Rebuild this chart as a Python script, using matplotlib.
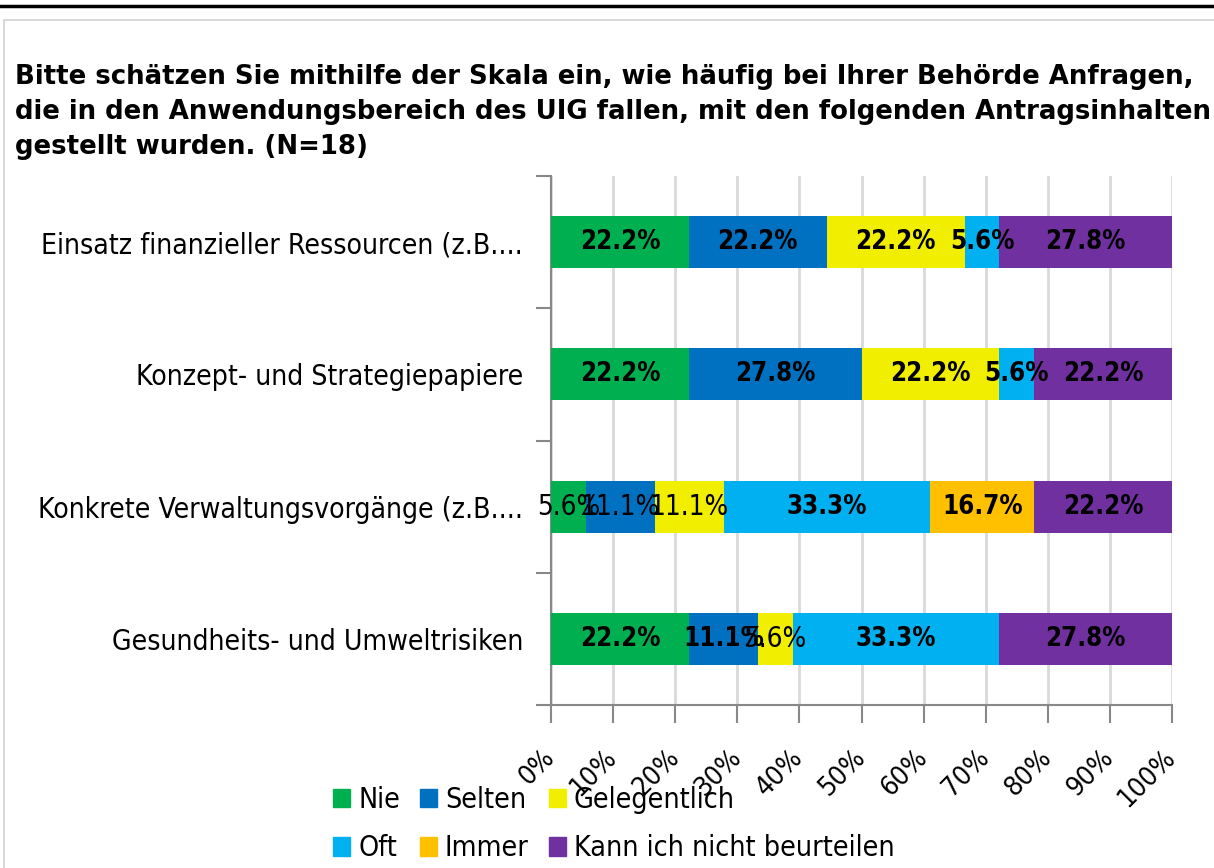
import numpy as np
import matplotlib
matplotlib.use('Agg')
import matplotlib.pyplot as plt
import matplotlib.transforms as mtrans
from matplotlib.patches import Rectangle, Patch
from matplotlib.lines import Line2D

# Daten
kategorien = ['Einsatz finanzieller Ressourcen (z.B....',
              'Konzept- und Strategiepapiere',
              'Konkrete Verwaltungsvorgänge (z.B....',
              'Gesundheits- und Umweltrisiken']
serien = ['Nie', 'Selten', 'Gelegentlich', 'Oft', 'Immer', 'Kann ich nicht beurteilen']
nie = [22.2, 22.2, 5.6, 22.2]
selten = [22.2, 27.8, 11.1, 11.1]
gelegentlich = [22.2, 22.2, 11.1, 5.6]
oft = [5.6, 5.6, 33.3, 33.3]
immer = [0.0, 0.0, 16.7, 0.0]
kann_nicht = [27.8, 22.2, 22.2, 27.8]
farben = ['#00B050', '#0070C0', '#F2EE00', '#00B0F0', '#FFC000', '#7030A0']
xticks = [0, 10, 20, 30, 40, 50, 60, 70, 80, 90, 100]
titel = ('Bitte schätzen Sie mithilfe der Skala ein, wie häufig bei Ihrer Behörde Anfragen,\n'
         'die in den Anwendungsbereich des UIG fallen, mit den folgenden Antragsinhalten\n'
         'gestellt wurden. (N=18)')
# Labels, die nicht fett gedruckt sind (Kategorie-Index, Serien-Index)
normal_labels = [(2, 0), (2, 1), (2, 2), (3, 2)]

werte = [nie, selten, gelegentlich, oft, immer, kann_nicht]

cond = dict(family='DejaVu Sans', stretch='condensed')

fig = plt.figure(figsize=(12.14, 8.68), dpi=100)
W, H = 1214, 868

# Rahmen oben
fig.add_artist(Line2D([0, 1], [1 - 6 / H, 1 - 6 / H], transform=fig.transFigure,
                      color='black', lw=2.5))
fig.add_artist(Rectangle((4 / W, -0.1), 1.2, 1 - 20 / H + 0.1, transform=fig.transFigure,
                         fill=False, edgecolor='#d9d9d9', lw=1.5))

ax = fig.add_axes([551 / W, 1 - 705 / H, (1172 - 551) / W, (705 - 176) / H])

y = np.arange(len(kategorien))
links = np.zeros(len(kategorien))
for si, (name, v, c) in enumerate(zip(serien, werte, farben)):
    v = np.array(v)
    ax.barh(y, v, left=links, height=0.394, color=c, label=name, zorder=3)
    for ki in range(len(kategorien)):
        if v[ki] > 0:
            if (ki, si) in normal_labels:
                ax.text(links[ki] + v[ki] / 2, y[ki], f'{v[ki]:.1f}%', ha='center', va='center',
                        fontsize=20, zorder=4, **cond)
            else:
                ax.text(links[ki] + v[ki] / 2, y[ki], f'{v[ki]:.1f}%', ha='center', va='center',
                        fontsize=18.5, fontweight='bold', zorder=4, **cond)
    links += v

ax.set_xlim(0, 100)
ax.set_ylim(3.5, -0.5)
ax.set_xticks(xticks)
ax.set_xticklabels([f'{t}%' for t in xticks])
verschiebung = mtrans.ScaledTranslation(7 / 100, 0, fig.dpi_scale_trans)
for lab in ax.get_xticklabels():
    lab.set_rotation(45)
    lab.set_ha('right')
    lab.set_va('center')
    lab.set_rotation_mode('anchor')
    lab.set_fontsize(19.5)
    lab.set_fontstretch('condensed')
    lab.set_transform(lab.get_transform() + verschiebung)
ax.tick_params(axis='x', direction='out', length=13, width=1.5, color='#888888', pad=22)
ax.grid(axis='x', color='#d9d9d9', lw=2, zorder=0)

ax.set_yticks(np.arange(-0.5, 4, 1))
ax.set_yticklabels([])
ax.set_yticks(y, minor=True)
ax.set_yticklabels(kategorien, minor=True, fontsize=20.3, **cond)
ax.tick_params(axis='y', which='major', direction='out', length=11, width=1.5, color='#888888')
ax.tick_params(axis='y', which='minor', length=0, pad=20)

for s in ['top', 'right']:
    ax.spines[s].set_visible(False)
for s in ['left', 'bottom']:
    ax.spines[s].set_color('#888888')
    ax.spines[s].set_linewidth(1.5)

fig.text(15 / W, 1 - 64 / H, titel, ha='left', va='top', fontsize=18.7, fontweight='bold',
         family='DejaVu Sans', linespacing=1.44)

hs = [Patch(color=c) for c in farben]
reihenfolge = [0, 3, 1, 4, 2, 5]
fig.legend([hs[i] for i in reihenfolge], [serien[i] for i in reihenfolge], ncol=3,
           loc='upper left', bbox_to_anchor=(333 / W, 1 - 786 / H), frameon=False,
           prop=dict(size=20.5, **cond), handlelength=0.6, handleheight=0.6,
           handletextpad=0.28, columnspacing=0.7, labelspacing=0.72, borderpad=0,
           borderaxespad=0)

fig.savefig('out.png', dpi=100)
